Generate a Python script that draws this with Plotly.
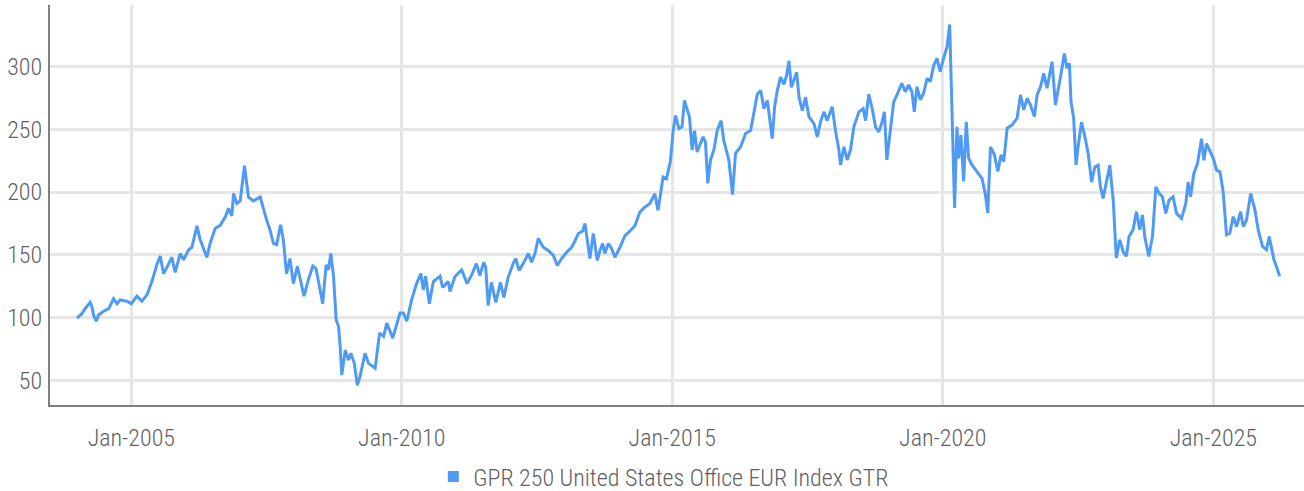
import plotly.graph_objects as go

dates = [
"2004-01-01","2004-02-02","2004-02-24","2004-03-07","2004-03-29","2004-04-09","2004-04-21","2004-05-09","2004-05-25","2004-06-28",
"2004-08-01","2004-09-03","2004-09-26","2004-10-18","2004-12-02","2005-01-01","2005-02-08","2005-03-13","2005-04-16","2005-05-20",
"2005-06-22","2005-07-15","2005-08-07","2005-08-29","2005-10-02","2005-10-24","2005-11-27","2005-12-20","2006-01-23","2006-02-14",
"2006-03-20","2006-04-11","2006-05-26","2006-06-17","2006-07-21","2006-08-24","2006-09-27","2006-10-19","2006-11-11","2006-11-22",
"2006-12-14","2007-01-06","2007-02-04","2007-03-03","2007-04-06","2007-05-21",
"2007-06-11","2007-07-03","2007-07-26","2007-08-18","2007-09-09","2007-10-06","2007-10-24","2007-11-15","2007-12-08","2007-12-31",
"2008-01-27","2008-02-14","2008-03-12","2008-04-10","2008-05-10","2008-06-01","2008-06-24","2008-07-16","2008-08-08","2008-08-24",
"2008-09-09","2008-09-27","2008-10-15","2008-10-31","2008-11-11","2008-11-22","2008-12-15","2009-01-06","2009-01-22","2009-02-14",
"2009-03-07","2009-03-25","2009-04-28","2009-05-21","2009-07-05","2009-08-04","2009-08-31","2009-09-22","2009-11-01","2009-12-20",
"2010-01-12","2010-02-04","2010-03-08","2010-04-11","2010-05-10","2010-05-26","2010-06-11","2010-07-06","2010-08-02","2010-09-16",
"2010-10-04","2010-11-11","2010-11-22","2010-12-26","2011-02-09",
"2011-03-18","2011-04-16","2011-05-20","2011-06-12","2011-07-08","2011-07-22","2011-08-07","2011-08-29","2011-09-28","2011-10-29",
"2011-11-21","2011-12-20","2012-01-23","2012-02-10","2012-03-03","2012-03-31","2012-05-04","2012-05-26","2012-06-18","2012-07-10",
"2012-08-13","2012-09-16","2012-10-20","2012-11-16","2012-12-15","2013-01-18","2013-02-21","2013-03-15","2013-04-07","2013-05-06",
"2013-05-22","2013-06-13","2013-06-24","2013-07-17","2013-08-13","2013-08-31","2013-09-18","2013-10-03","2013-10-26","2013-11-17",
"2013-12-10","2014-01-13","2014-02-15","2014-03-21","2014-04-23","2014-05-27","2014-06-30","2014-08-02","2014-09-05","2014-09-27",
"2014-10-31","2014-11-23","2014-12-20","2015-01-07","2015-01-23",
"2015-02-15","2015-03-08","2015-03-24","2015-04-11","2015-04-27","2015-05-15","2015-05-31","2015-06-18","2015-07-10","2015-07-28",
"2015-08-13","2015-08-29","2015-09-16","2015-10-09","2015-10-31","2015-11-27","2015-12-15","2016-01-18","2016-02-12","2016-03-03",
"2016-04-06","2016-05-10","2016-06-13","2016-07-06","2016-07-28","2016-08-20","2016-09-11","2016-10-04","2016-10-26","2016-11-06",
"2016-11-22","2016-12-10","2017-01-01","2017-01-24","2017-02-11","2017-02-27","2017-03-15","2017-04-02","2017-04-20","2017-05-06",
"2017-05-28","2017-06-19","2017-07-12","2017-08-15","2017-09-06","2017-09-28","2017-10-21","2017-11-12","2017-12-16","2018-01-07",
"2018-01-30","2018-02-10","2018-03-05","2018-03-27","2018-04-18","2018-05-11","2018-06-14","2018-07-13","2018-07-29","2018-08-20",
"2018-09-12","2018-10-04","2018-10-27",
"2018-11-17","2018-12-03","2018-12-20","2019-01-12","2019-02-04","2019-02-26","2019-03-31","2019-04-23","2019-05-16","2019-06-07",
"2019-06-23","2019-07-11","2019-08-03","2019-08-25","2019-09-17","2019-10-09","2019-11-01","2019-11-23","2019-12-15","2020-01-07",
"2020-01-30","2020-02-17","2020-02-28","2020-03-10","2020-03-21","2020-04-06","2020-04-17","2020-05-03","2020-05-21","2020-06-08",
"2020-06-24","2020-07-16","2020-08-19","2020-09-22","2020-10-15","2020-10-31","2020-11-18","2020-12-15","2021-01-07","2021-01-29",
"2021-02-16","2021-03-11","2021-04-14","2021-05-17","2021-06-09","2021-07-01","2021-07-24","2021-08-15","2021-09-11","2021-09-29",
"2021-10-22","2021-11-13","2021-12-05","2022-01-08","2022-01-31","2022-02-22","2022-03-16","2022-04-01","2022-04-19","2022-05-05",
"2022-05-16","2022-06-03","2022-06-19",
"2022-07-03","2022-07-26","2022-08-18","2022-09-09","2022-10-02","2022-10-24","2022-11-15","2022-12-01","2022-12-19","2023-01-11",
"2023-02-02","2023-02-25","2023-03-18","2023-04-10","2023-05-03","2023-05-25","2023-06-12","2023-07-09","2023-08-01","2023-08-23",
"2023-09-10","2023-09-26","2023-10-23","2023-11-17","2023-12-10","2024-01-01","2024-01-23","2024-02-15","2024-03-08","2024-04-04",
"2024-04-27","2024-05-31","2024-06-29","2024-07-15","2024-07-31","2024-08-22","2024-09-16","2024-10-13","2024-10-29","2024-11-16",
"2024-12-09","2025-01-01","2025-01-23","2025-02-15","2025-03-08","2025-03-31","2025-04-22","2025-05-15","2025-06-07","2025-07-04",
"2025-07-22","2025-08-13","2025-09-10","2025-10-09","2025-10-31","2025-11-29","2025-12-26","2026-01-13","2026-01-29","2026-02-14",
"2026-03-03","2026-03-25",
]

values = [
99.5,103,107,109,112,109,102,97,102,105,
107,115,111,114,113,111,117,113,118,128.6,
142,149,135,140,148,136,151,146,154,156,
173,162,148,159,171,173.5,180,187,181,199,
191,193,221,196,193,196,
186,178,170,159,158,174,162,135,147,127,
140.7,130,117,130,141,139,125,111,142,138,
151,133,98,93,77,54,74,66,71.5,63.6,
46,53,71.5,63.6,59.6,87.5,85,95.5,83.5,103.5,
103.5,97,114,127,135,122,133,111,128.7,133,
124,128.7,120.7,132.7,138,
127,133.5,143,133.5,144,140,109.6,128,112,128,
116,132,143,147,137.5,143,151,144,151,163,
156,153.5,149.5,141.5,147,152,156,161,167,169,
175,156,147,167,145.5,153.5,159,151,159,155,
148,156,165,169,173,184,188,190.7,198.7,185.4,
212,210.6,225,249,261,
250.7,252,273,265,260,233.5,249,232,239,244,
240,207,225.6,233.5,249,257,241,225.6,198,231,
236,246.7,249,262.5,278,281,266.5,273,254.6,242.7,
268,281,291.6,286,293,304.7,283.6,289,295.5,275.7,
265,275.7,260,254.6,244,256,264,257,268,249,
233.5,221.6,236,225.6,233.5,252,264,266.5,257,278,
266.5,252,248,
256,264,225.7,251,272,277.5,286.7,280,285.4,280,
264,284,273.5,278.8,290.7,288,301,306.6,296,306.6,
316,333.7,278.8,227,187.3,252,227,245.6,208.5,256,
227,221.7,216.4,211,198,183.3,236,229.7,216.4,229.7,
224.4,251,253.6,259,277.5,265.5,274.8,269.5,260.2,277.5,
284,294.7,282.8,304,269.5,282.8,298.7,310.6,298.7,302.7,
272,259,221.7,
236,255.8,244,230.7,208,220,221.4,204,195,209.5,
221.4,193.7,147.4,162,152.6,148.7,164.6,170,184.4,170,
181.7,164.6,148.7,164.6,204.2,199,196.3,183,193.7,196.3,
183,179,191,208,196.3,214.8,222.8,242.6,225.4,238.6,
233.3,226.7,217.5,216,200.3,166,167.2,180.4,172.5,184.4,
172.5,177.8,198.9,185.7,169.8,156.6,154,164.6,155.3,146,
140.7,132.8,
]

series_name = "GPR 250 United States Office EUR Index GTR"
line_color = "#4e9af5"
font_family = "Roboto Condensed, Liberation Sans Narrow, Roboto, sans-serif"

fig = go.Figure()
fig.add_trace(go.Scatter(
    x=dates, y=values, mode="lines", name=series_name,
    line=dict(color=line_color, width=3), showlegend=False,
))
fig.add_trace(go.Scatter(
    x=[None], y=[None], mode="markers", name=series_name,
    marker=dict(symbol="square", size=11, color=line_color),
))

fig.update_layout(
    width=1304, height=491,
    margin=dict(l=50, r=0, t=5, b=86, autoexpand=False),
    paper_bgcolor="white", plot_bgcolor="white",
    font=dict(family=font_family, size=24, color="#5f5f5f", weight=300),
    showlegend=True,
    legend=dict(orientation="h", xref="paper", x=0.4895, xanchor="center",
                yref="paper", y=-0.18, yanchor="middle",
                font=dict(size=24, color="#5f5f5f"), itemwidth=30,
                bgcolor="rgba(0,0,0,0)"),
    xaxis=dict(
        type="date", range=["2003-07-02", "2026-09-05"],
        tick0="2005-01-01", dtick="M60", tickformat="%b-%Y", tickangle=0,
        showgrid=True, gridcolor="#e6e6e6", gridwidth=2.5,
        showline=True, linecolor="#7f7f7f", linewidth=2,
        ticks="", ticklabelstandoff=10, zeroline=False, automargin=False,
    ),
    yaxis=dict(
        range=[30.2, 349.2], tick0=0, dtick=50,
        showgrid=True, gridcolor="#e6e6e6", gridwidth=2.5,
        showline=True, linecolor="#7f7f7f", linewidth=2,
        ticks="", ticklabelstandoff=1, zeroline=False, automargin=False,
    ),
)

fig.write_html(
    "out.html",
    config={"displayModeBar": False},
    post_script="document.body.style.margin='0';document.body.style.overflow='hidden';",
)
